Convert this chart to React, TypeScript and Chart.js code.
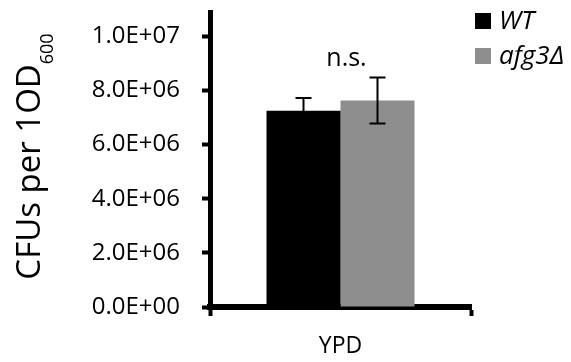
import React, { useEffect, useRef } from 'react';
import { Chart, registerables } from 'chart.js';

Chart.register(...registerables);

// ---- data ----
const categories = ['YPD'];
const seriesLabels = ['WT', 'afg3Δ'];
const seriesColors = ['#000000', '#8e8e8e'];
const wtValues = [7.25e6];
const wtErrors = [0.47e6];
const afgValues = [7.63e6];
const afgErrors = [0.85e6];
const yTickValues = [0, 2e6, 4e6, 6e6, 8e6, 1e7];
const yTickLabels = ['0.0E+00', '2.0E+06', '4.0E+06', '6.0E+06', '8.0E+06', '1.0E+07'];
const yTitleMain = 'CFUs per 1OD';
const yTitleSub = '600';
const significanceLabel = 'n.s.';

const FONT = '"Open Sans", sans-serif';

const errorBarPlugin = {
  id: 'errorBars',
  afterDatasetsDraw(chart: any) {
    const { ctx } = chart;
    const yScale = chart.scales.y;
    chart.data.datasets.forEach((ds: any, di: number) => {
      const meta = chart.getDatasetMeta(di);
      meta.data.forEach((bar: any, i: number) => {
        const v = ds.data[i];
        const e = ds.errors[i];
        const x = bar.x;
        const yTop = yScale.getPixelForValue(v + e);
        const yBot = yScale.getPixelForValue(v - e);
        const cap = 8;
        ctx.save();
        ctx.strokeStyle = '#000';
        ctx.lineWidth = 2;
        ctx.beginPath();
        ctx.moveTo(x, yTop);
        ctx.lineTo(x, yBot);
        ctx.moveTo(x - cap, yTop);
        ctx.lineTo(x + cap, yTop);
        ctx.moveTo(x - cap, yBot);
        ctx.lineTo(x + cap, yBot);
        ctx.stroke();
        ctx.restore();
      });
    });
  },
};

const annotationPlugin = {
  id: 'significance',
  afterDatasetsDraw(chart: any) {
    const { ctx } = chart;
    const xScale = chart.scales.x;
    const yScale = chart.scales.y;
    let top = Infinity;
    chart.data.datasets.forEach((ds: any) => {
      top = Math.min(top, yScale.getPixelForValue(ds.data[0] + ds.errors[0]));
    });
    ctx.save();
    ctx.font = `25px ${FONT}`;
    ctx.fillStyle = '#000';
    ctx.textAlign = 'center';
    ctx.textBaseline = 'alphabetic';
    ctx.fillText(significanceLabel, xScale.getPixelForValue(0) + 6, top - 11);
    ctx.restore();
  },
};

const yTitlePlugin = {
  id: 'yTitle',
  afterDraw(chart: any) {
    const { ctx, chartArea } = chart;
    ctx.save();
    const mainFont = `33px ${FONT}`;
    const subFont = `18px ${FONT}`;
    ctx.font = mainFont;
    const wMain = ctx.measureText(yTitleMain).width;
    ctx.font = subFont;
    const wSub = ctx.measureText(yTitleSub).width;
    const total = wMain + wSub;
    const cy = (chartArea.top + chartArea.bottom) / 2 - 3;
    const baseX = 40;
    ctx.translate(baseX, cy + total / 2);
    ctx.rotate(-Math.PI / 2);
    ctx.fillStyle = '#000';
    ctx.textAlign = 'left';
    ctx.textBaseline = 'alphabetic';
    ctx.font = mainFont;
    ctx.fillText(yTitleMain, 0, 0);
    ctx.font = subFont;
    ctx.fillText(yTitleSub, wMain, 13);
    ctx.restore();
  },
};

const legendPlugin = {
  id: 'sideLegend',
  afterDraw(chart: any) {
    const { ctx, chartArea } = chart;
    ctx.save();
    const x0 = chartArea.right + 4;
    chart.data.datasets.forEach((ds: any, i: number) => {
      const y = 13 + i * 35;
      ctx.fillStyle = ds.backgroundColor;
      ctx.fillRect(x0, y, 16, 16);
      ctx.font = `italic 26px ${FONT}`;
      ctx.fillStyle = '#000';
      ctx.textAlign = 'left';
      ctx.textBaseline = 'middle';
      ctx.fillText(ds.label, x0 + 24, y + 9);
    });
    ctx.restore();
  },
};

export default function App() {
  const ref = useRef<HTMLCanvasElement>(null);
  useEffect(() => {
    document.body.style.margin = '0';
    const chart = new Chart(ref.current!, {
      type: 'bar',
      data: {
        labels: categories,
        datasets: [
          {
            label: seriesLabels[0],
            data: wtValues,
            errors: wtErrors,
            backgroundColor: seriesColors[0],
            borderWidth: 0,
          } as any,
          {
            label: seriesLabels[1],
            data: afgValues,
            errors: afgErrors,
            backgroundColor: seriesColors[1],
            borderWidth: 0,
          } as any,
        ],
      },
      options: {
        animation: false,
        responsive: true,
        maintainAspectRatio: false,
        layout: { padding: { left: 50, top: 12, right: 100, bottom: 0 } },
        datasets: { bar: { categoryPercentage: 0.567, barPercentage: 1 } },
        plugins: {
          legend: { display: false },
          tooltip: { enabled: false },
          title: { display: false },
        },
        scales: {
          x: {
            grid: {
              display: true,
              drawOnChartArea: false,
              drawTicks: true,
              tickLength: 9,
              tickWidth: 4,
              tickColor: '#000',
              color: '#000',
              offset: true,
            },
            border: { display: true, color: '#000', width: 6 },
            ticks: {
              color: '#000',
              font: { family: FONT, size: 23 },
              padding: 17,
            },
            afterFit(scale: any) {
              scale.height = 55;
              scale.paddingLeft = 0;
              scale.paddingRight = 0;
            },
          },
          y: {
            min: 0,
            max: 1.09e7,
            grid: {
              display: true,
              drawOnChartArea: false,
              drawTicks: true,
              tickLength: 8,
              tickWidth: 4,
              tickColor: '#000',
              color: '#000',
            },
            border: { display: true, color: '#000', width: 5 },
            ticks: {
              color: '#000',
              font: { family: FONT, size: 24 },
              padding: 22,
              autoSkip: false,
              callback: (value: any) => {
                const idx = yTickValues.indexOf(Number(value));
                return idx >= 0 ? yTickLabels[idx] : '';
              },
            },
            afterBuildTicks(scale: any) {
              scale.ticks = yTickValues.map((v) => ({ value: v }));
            },
            afterFit(scale: any) {
              scale.width = 160;
              scale.paddingTop = 0;
              scale.paddingBottom = 0;
            },
          },
        },
      },
      plugins: [errorBarPlugin, annotationPlugin, yTitlePlugin, legendPlugin],
    });
    return () => chart.destroy();
  }, []);
  return (
    <div style={{ width: 571, height: 362, position: 'relative' }}>
      <canvas ref={ref} />
    </div>
  );
}
